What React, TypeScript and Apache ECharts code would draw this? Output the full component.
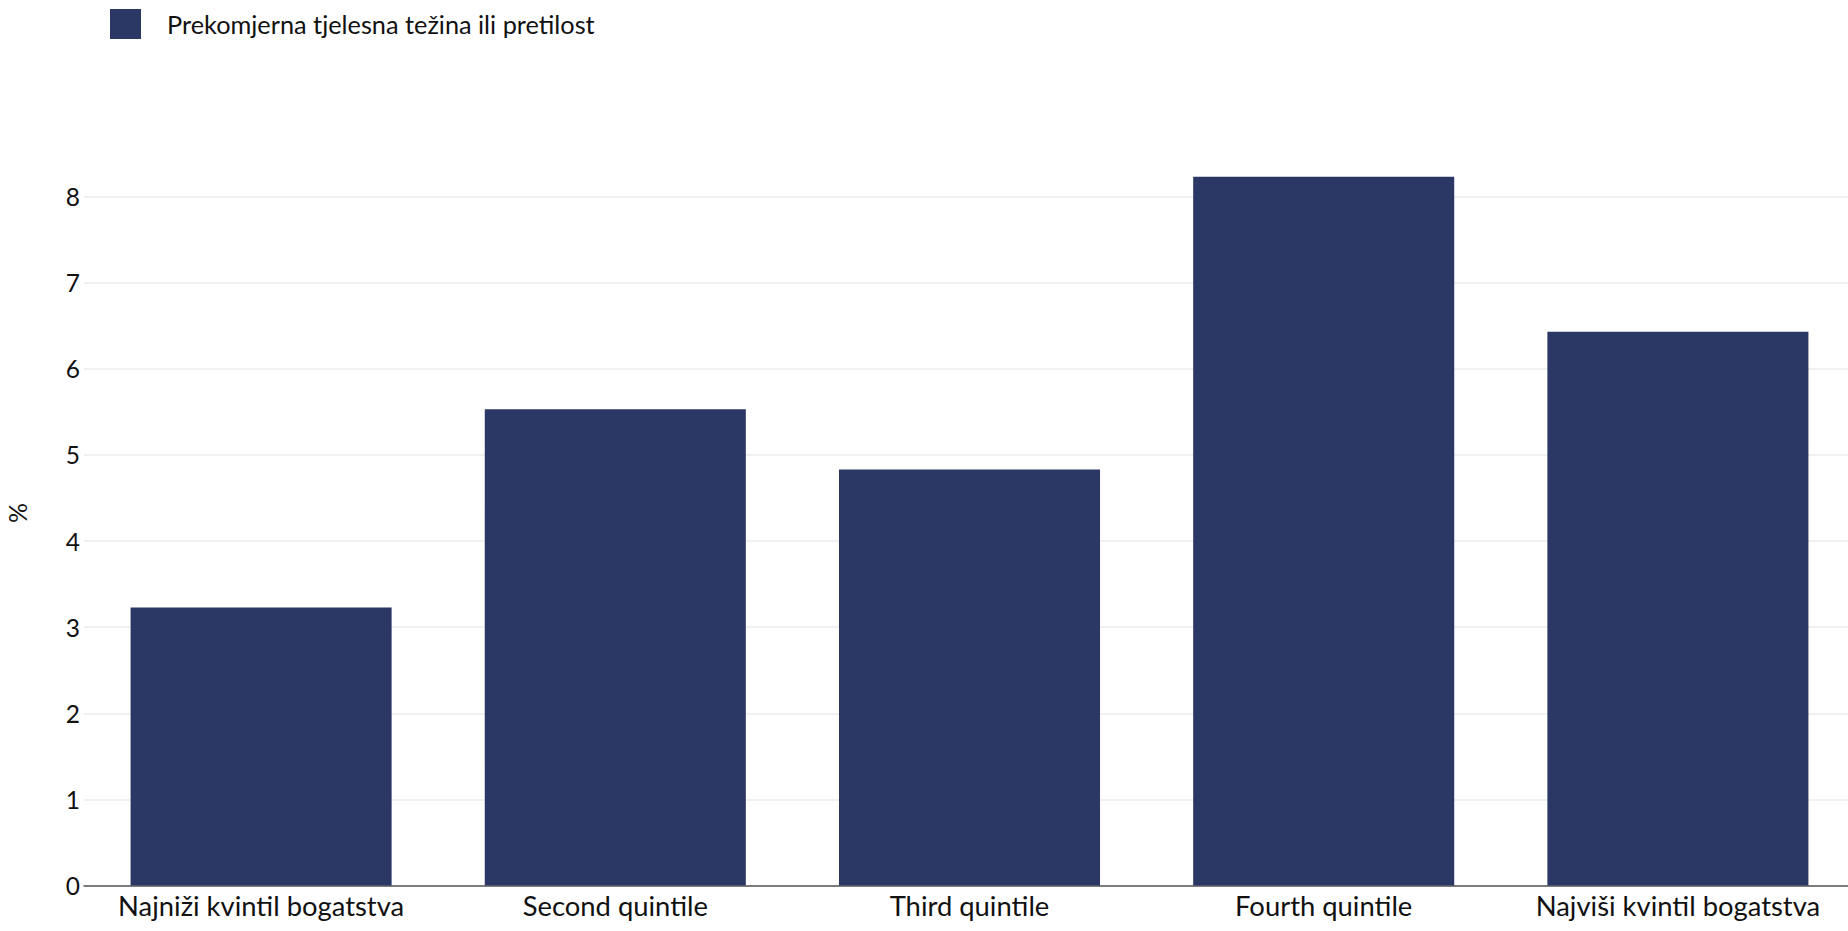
import React, { useEffect, useRef } from "react";
import * as echarts from "echarts";

const categories = [
  "Najniži kvintil bogatstva",
  "Second quintile",
  "Third quintile",
  "Fourth quintile",
  "Najviši kvintil bogatstva",
];
const seriesName = "Prekomjerna tjelesna težina ili pretilost";
const values = [3.23, 5.53, 4.83, 8.23, 6.43];
const yAxisName = "%";

const FONT = "Lato, 'Noto Sans', sans-serif";
const BAR = "#2b3764";

export default function App() {
  const ref = useRef<HTMLDivElement>(null);
  useEffect(() => {
    if (!ref.current) return;
    const chart = echarts.init(ref.current, undefined, { renderer: "svg" });
    chart.setOption({
      animation: false,
      backgroundColor: "#ffffff",
      textStyle: { fontFamily: FONT },
      legend: {
        show: true,
        left: 110,
        top: 9,
        padding: 0,
        itemWidth: 31,
        itemHeight: 30,
        icon: "rect",
        data: [seriesName],
        textStyle: {
          fontFamily: FONT,
          fontSize: 25.3,
          color: "#111111",
          padding: [0, 0, 0, 21],
        },
      },
      grid: {
        left: 84,
        right: 5,
        top: 140.7,
        bottom: 45.5,
        containLabel: false,
        outerBoundsMode: "none",
      },
      xAxis: {
        type: "category",
        data: categories,
        axisLine: { show: true, lineStyle: { color: "#555555", width: 1.5 } },
        axisTick: { show: false },
        axisLabel: {
          fontFamily: FONT,
          fontSize: 27.4,
          color: "#111111",
          margin: 6,
          interval: 0,
        },
        splitLine: { show: false },
      },
      yAxis: {
        type: "value",
        min: 0,
        max: 8.65,
        interval: 1,
        name: yAxisName,
        nameLocation: "middle",
        nameGap: 55,
        nameRotate: 90,
        nameTextStyle: { fontFamily: FONT, fontSize: 25, color: "#111111" },
        axisLine: { show: false },
        axisTick: { show: false },
        axisLabel: {
          fontFamily: FONT,
          fontSize: 24.5,
          color: "#111111",
          margin: 4,
          showMaxLabel: false,
        },
        splitLine: {
          show: true,
          showMaxLine: false,
          lineStyle: { color: "#ebebeb", width: 1.5 },
        },
      },
      series: [
        {
          name: seriesName,
          type: "bar",
          data: values,
          barCategoryGap: "26.3%",
          itemStyle: { color: BAR },
        },
      ],
    });
    return () => chart.dispose();
  }, []);
  return (
    <div
      style={{
        position: "fixed",
        left: 0,
        top: 0,
        width: 1848,
        height: 931,
        overflow: "hidden",
        background: "#ffffff",
      }}
    >
      <div ref={ref} style={{ width: 1860, height: 931 }} />
    </div>
  );
}
